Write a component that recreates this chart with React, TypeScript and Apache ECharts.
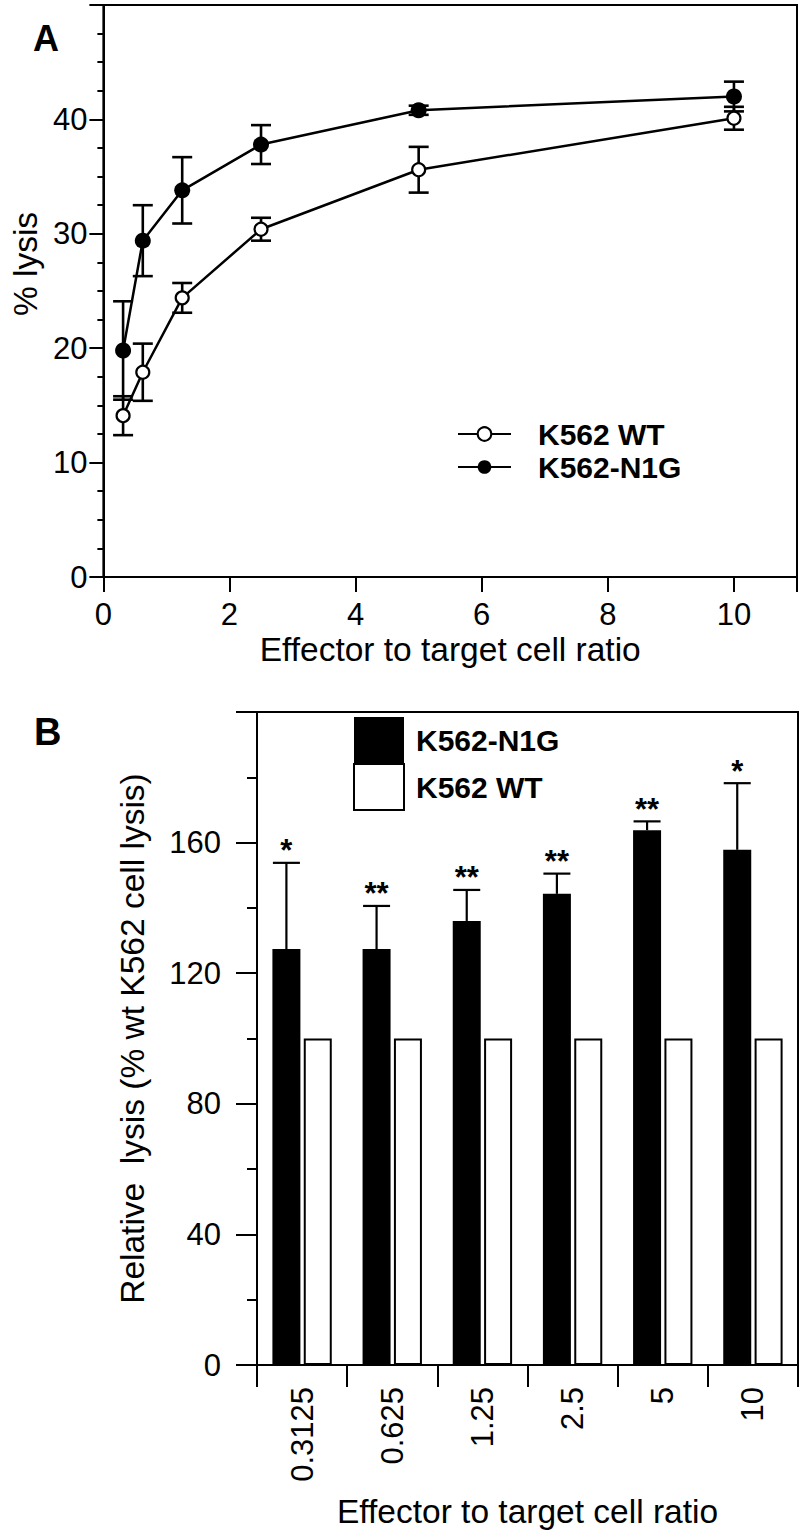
import React, { useEffect, useRef } from "react";
import * as echarts from "echarts";

const FONT = '"Liberation Sans", Arial, Helvetica, sans-serif';

// Panel A data
const ratios = [0.3125, 0.625, 1.25, 2.5, 5, 10];
const wtMean = [14.1, 17.9, 24.4, 30.4, 35.6, 40.1];
const wtErr = [1.7, 2.5, 1.3, 1.0, 2.0, 1.0];
const n1gMean = [19.8, 29.4, 33.8, 37.8, 40.8, 42.0];
const n1gErr = [4.3, 3.1, 2.9, 1.7, 0.4, 1.3];

// Panel B data
const categoriesB = ["0.3125", "0.625", "1.25", "2.5", "5", "10"];
const n1gRel = [127.4, 127.4, 136, 144.3, 163.8, 157.8];
const n1gRelErr = [26.4, 13.2, 9.5, 6.2, 2.7, 20.4];
const wtRel = [100, 100, 100, 100, 100, 100];
const stars = ["*", "**", "**", "**", "**", "*"];

const BAR_W = 28;
const BAR_GAP = 0.12;

export default function App() {
  const ref = useRef<HTMLDivElement>(null);
  useEffect(() => {
    if (!ref.current) return;
    const chart = echarts.init(ref.current, null, { renderer: "svg" });
    const axisLine = { show: true, onZero: false, lineStyle: { color: "#000", width: 2 } };
    const labelStyle = { color: "#000", fontFamily: FONT, fontSize: 31 };
    const nameStyle = { color: "#000", fontFamily: FONT, fontSize: 33.5 };

    const errA = (mean: number[], err: number[]) =>
      ratios.map((r, i) => [r, mean[i] - err[i], mean[i] + err[i]]);

    const renderErrA = (params: any, api: any) => {
      const x = api.value(0);
      const pLo = api.coord([x, api.value(1)]);
      const pHi = api.coord([x, api.value(2)]);
      const hw = 10;
      const style = { stroke: "#000", lineWidth: 2.6 };
      return {
        type: "group",
        children: [
          { type: "line", shape: { x1: pLo[0], y1: pLo[1], x2: pHi[0], y2: pHi[1] }, style },
          { type: "line", shape: { x1: pLo[0] - hw, y1: pLo[1], x2: pLo[0] + hw, y2: pLo[1] }, style },
          { type: "line", shape: { x1: pHi[0] - hw, y1: pHi[1], x2: pHi[0] + hw, y2: pHi[1] }, style },
        ],
      };
    };

    const offsetB = -(BAR_W + BAR_W * BAR_GAP) / 2;
    const renderErrB = (params: any, api: any) => {
      const idx = api.value(0);
      const base = api.coord([idx, api.value(1)]);
      const top = api.coord([idx, api.value(2)]);
      const x = base[0] + offsetB;
      const hw = 13.5;
      const style = { stroke: "#000", lineWidth: 2.2 };
      return {
        type: "group",
        children: [
          { type: "line", shape: { x1: x, y1: base[1], x2: x, y2: top[1] }, style },
          { type: "line", shape: { x1: x - hw, y1: top[1], x2: x + hw, y2: top[1] }, style },
          {
            type: "text",
            style: {
              text: stars[params.dataIndex],
              x: x,
              y: top[1] - 12,
              align: "center",
              verticalAlign: "middle",
              fontSize: 31,
              fontWeight: "bold",
              fontFamily: FONT,
              fill: "#000",
            },
          },
        ],
      };
    };

    const option: any = {
      animation: false,
      backgroundColor: "#fff",
      textStyle: { fontFamily: FONT },
      title: [
        { text: "A", left: 33, top: 20, padding: 0, textStyle: { fontSize: 36, fontWeight: "bold", color: "#000", fontFamily: FONT } },
        { text: "B", left: 34, top: 713, padding: 0, textStyle: { fontSize: 38, fontWeight: "bold", color: "#000", fontFamily: FONT } },
      ],
      legend: [
        {
          data: ["K562 WT", "K562-N1G"],
          orient: "vertical",
          left: 457,
          top: 419,
          padding: 0,
          itemWidth: 53,
          itemHeight: 17,
          itemGap: 3,
          selectedMode: false,
          textStyle: { fontSize: 30, fontWeight: "bold", color: "#000", fontFamily: FONT, padding: [0, 0, 0, 22] },
        },
        {
          data: ["K562-N1G (B)", "K562 WT (B)"],
          orient: "vertical",
          left: 353,
          top: 717,
          padding: 0,
          itemWidth: 50,
          itemHeight: 46,
          itemGap: 0,
          icon: "rect",
          selectedMode: false,
          formatter: (n: string) => n.replace(" (B)", ""),
          textStyle: { fontSize: 30, fontWeight: "bold", color: "#000", fontFamily: FONT, padding: [0, 0, 0, 7] },
        },
      ],
      grid: [
        { left: 94, top: 5, right: 1, bottom: 1534 - 577, show: true, borderColor: "#000", borderWidth: 2 },
        { left: 257, top: 712, right: 2, bottom: 1534 - 1365, show: true, borderColor: "#000", borderWidth: 2 },
      ],
      xAxis: [
        {
          gridIndex: 0,
          type: "value",
          min: 0,
          max: 11,
          interval: 2,
          axisLine,
          axisTick: { show: true, length: 15, lineStyle: { color: "#000", width: 2 } },
          axisLabel: { ...labelStyle, margin: 22, formatter: (v: number) => (v === 11 ? "" : String(v)) },
          splitLine: { show: false },
          name: "Effector to target cell ratio",
          nameLocation: "middle",
          nameGap: 55,
          nameTextStyle: nameStyle,
        },
        {
          gridIndex: 1,
          type: "category",
          data: categoriesB,
          axisLine,
          axisTick: { show: true, alignWithLabel: false, interval: 0, length: 22, lineStyle: { color: "#000", width: 2 } },
          axisLabel: { ...labelStyle, rotate: 90, margin: 22, interval: 0 },
          splitLine: { show: false },
          name: "Effector to target cell ratio",
          nameLocation: "middle",
          nameGap: 129,
          nameTextStyle: nameStyle,
        },
      ],
      yAxis: [
        {
          gridIndex: 0,
          type: "value",
          min: 0,
          max: 50,
          interval: 10,
          axisLine,
          axisTick: { show: true, length: 14, lineStyle: { color: "#000", width: 2 } },
          minorTick: { show: true, splitNumber: 4, length: 6, lineStyle: { color: "#000", width: 2 } },
          axisLabel: { ...labelStyle, margin: 16, formatter: (v: number) => (v === 50 ? "" : String(v)) },
          splitLine: { show: false },
          minorSplitLine: { show: false },
          name: "% lysis",
          nameLocation: "middle",
          nameGap: 61,
          nameTextStyle: { ...nameStyle, padding: [0, 0, 0, 54] },
        },
        {
          gridIndex: 1,
          type: "value",
          min: 0,
          max: 200,
          interval: 40,
          axisLine,
          axisTick: { show: true, length: 21, lineStyle: { color: "#000", width: 2 } },
          minorTick: { show: true, splitNumber: 2, length: 10, lineStyle: { color: "#000", width: 2 } },
          axisLabel: { ...labelStyle, margin: 36, formatter: (v: number) => (v === 200 ? "" : String(v)) },
          splitLine: { show: false },
          minorSplitLine: { show: false },
          name: "Relative  lysis (% wt K562 cell lysis)",
          nameLocation: "middle",
          nameGap: 108,
          nameTextStyle: nameStyle,
        },
      ],
      series: [
        {
          type: "custom",
          name: "errWT",
          xAxisIndex: 0,
          yAxisIndex: 0,
          data: errA(wtMean, wtErr),
          encode: { x: 0, y: [1, 2] },
          renderItem: renderErrA,
          z: 2,
        },
        {
          type: "custom",
          name: "errN1G",
          xAxisIndex: 0,
          yAxisIndex: 0,
          data: errA(n1gMean, n1gErr),
          encode: { x: 0, y: [1, 2] },
          renderItem: renderErrA,
          z: 2,
        },
        {
          type: "line",
          name: "K562 WT",
          xAxisIndex: 0,
          yAxisIndex: 0,
          data: ratios.map((r, i) => [r, wtMean[i]]),
          symbol: "circle",
          symbolSize: 13,
          lineStyle: { color: "#000", width: 2.5 },
          itemStyle: { color: "#fff", borderColor: "#000", borderWidth: 2.2 },
          z: 4,
        },
        {
          type: "line",
          name: "K562-N1G",
          xAxisIndex: 0,
          yAxisIndex: 0,
          data: ratios.map((r, i) => [r, n1gMean[i]]),
          symbol: "circle",
          symbolSize: 16,
          lineStyle: { color: "#000", width: 2.5 },
          itemStyle: { color: "#000", borderColor: "#000", borderWidth: 0 },
          z: 3,
        },
        {
          type: "bar",
          name: "K562-N1G (B)",
          xAxisIndex: 1,
          yAxisIndex: 1,
          data: n1gRel,
          barWidth: BAR_W,
          barGap: `${BAR_GAP * 100}%`,
          itemStyle: { color: "#000", borderColor: "#000", borderWidth: 0 },
          z: 2,
        },
        {
          type: "bar",
          name: "K562 WT (B)",
          xAxisIndex: 1,
          yAxisIndex: 1,
          data: wtRel,
          barWidth: BAR_W,
          barGap: `${BAR_GAP * 100}%`,
          itemStyle: { color: "#fff", borderColor: "#000", borderWidth: 2 },
          z: 2,
        },
        {
          type: "custom",
          name: "errB",
          xAxisIndex: 1,
          yAxisIndex: 1,
          data: n1gRel.map((v, i) => [i, v, v + n1gRelErr[i]]),
          encode: { x: 0, y: [1, 2] },
          renderItem: renderErrB,
          z: 3,
        },
      ],
    };
    chart.setOption(option);
    return () => chart.dispose();
  }, []);
  return (
    <div
      ref={ref}
      style={{ position: "absolute", left: 0, top: 0, width: 800, height: 1534, background: "#fff" }}
    />
  );
}
